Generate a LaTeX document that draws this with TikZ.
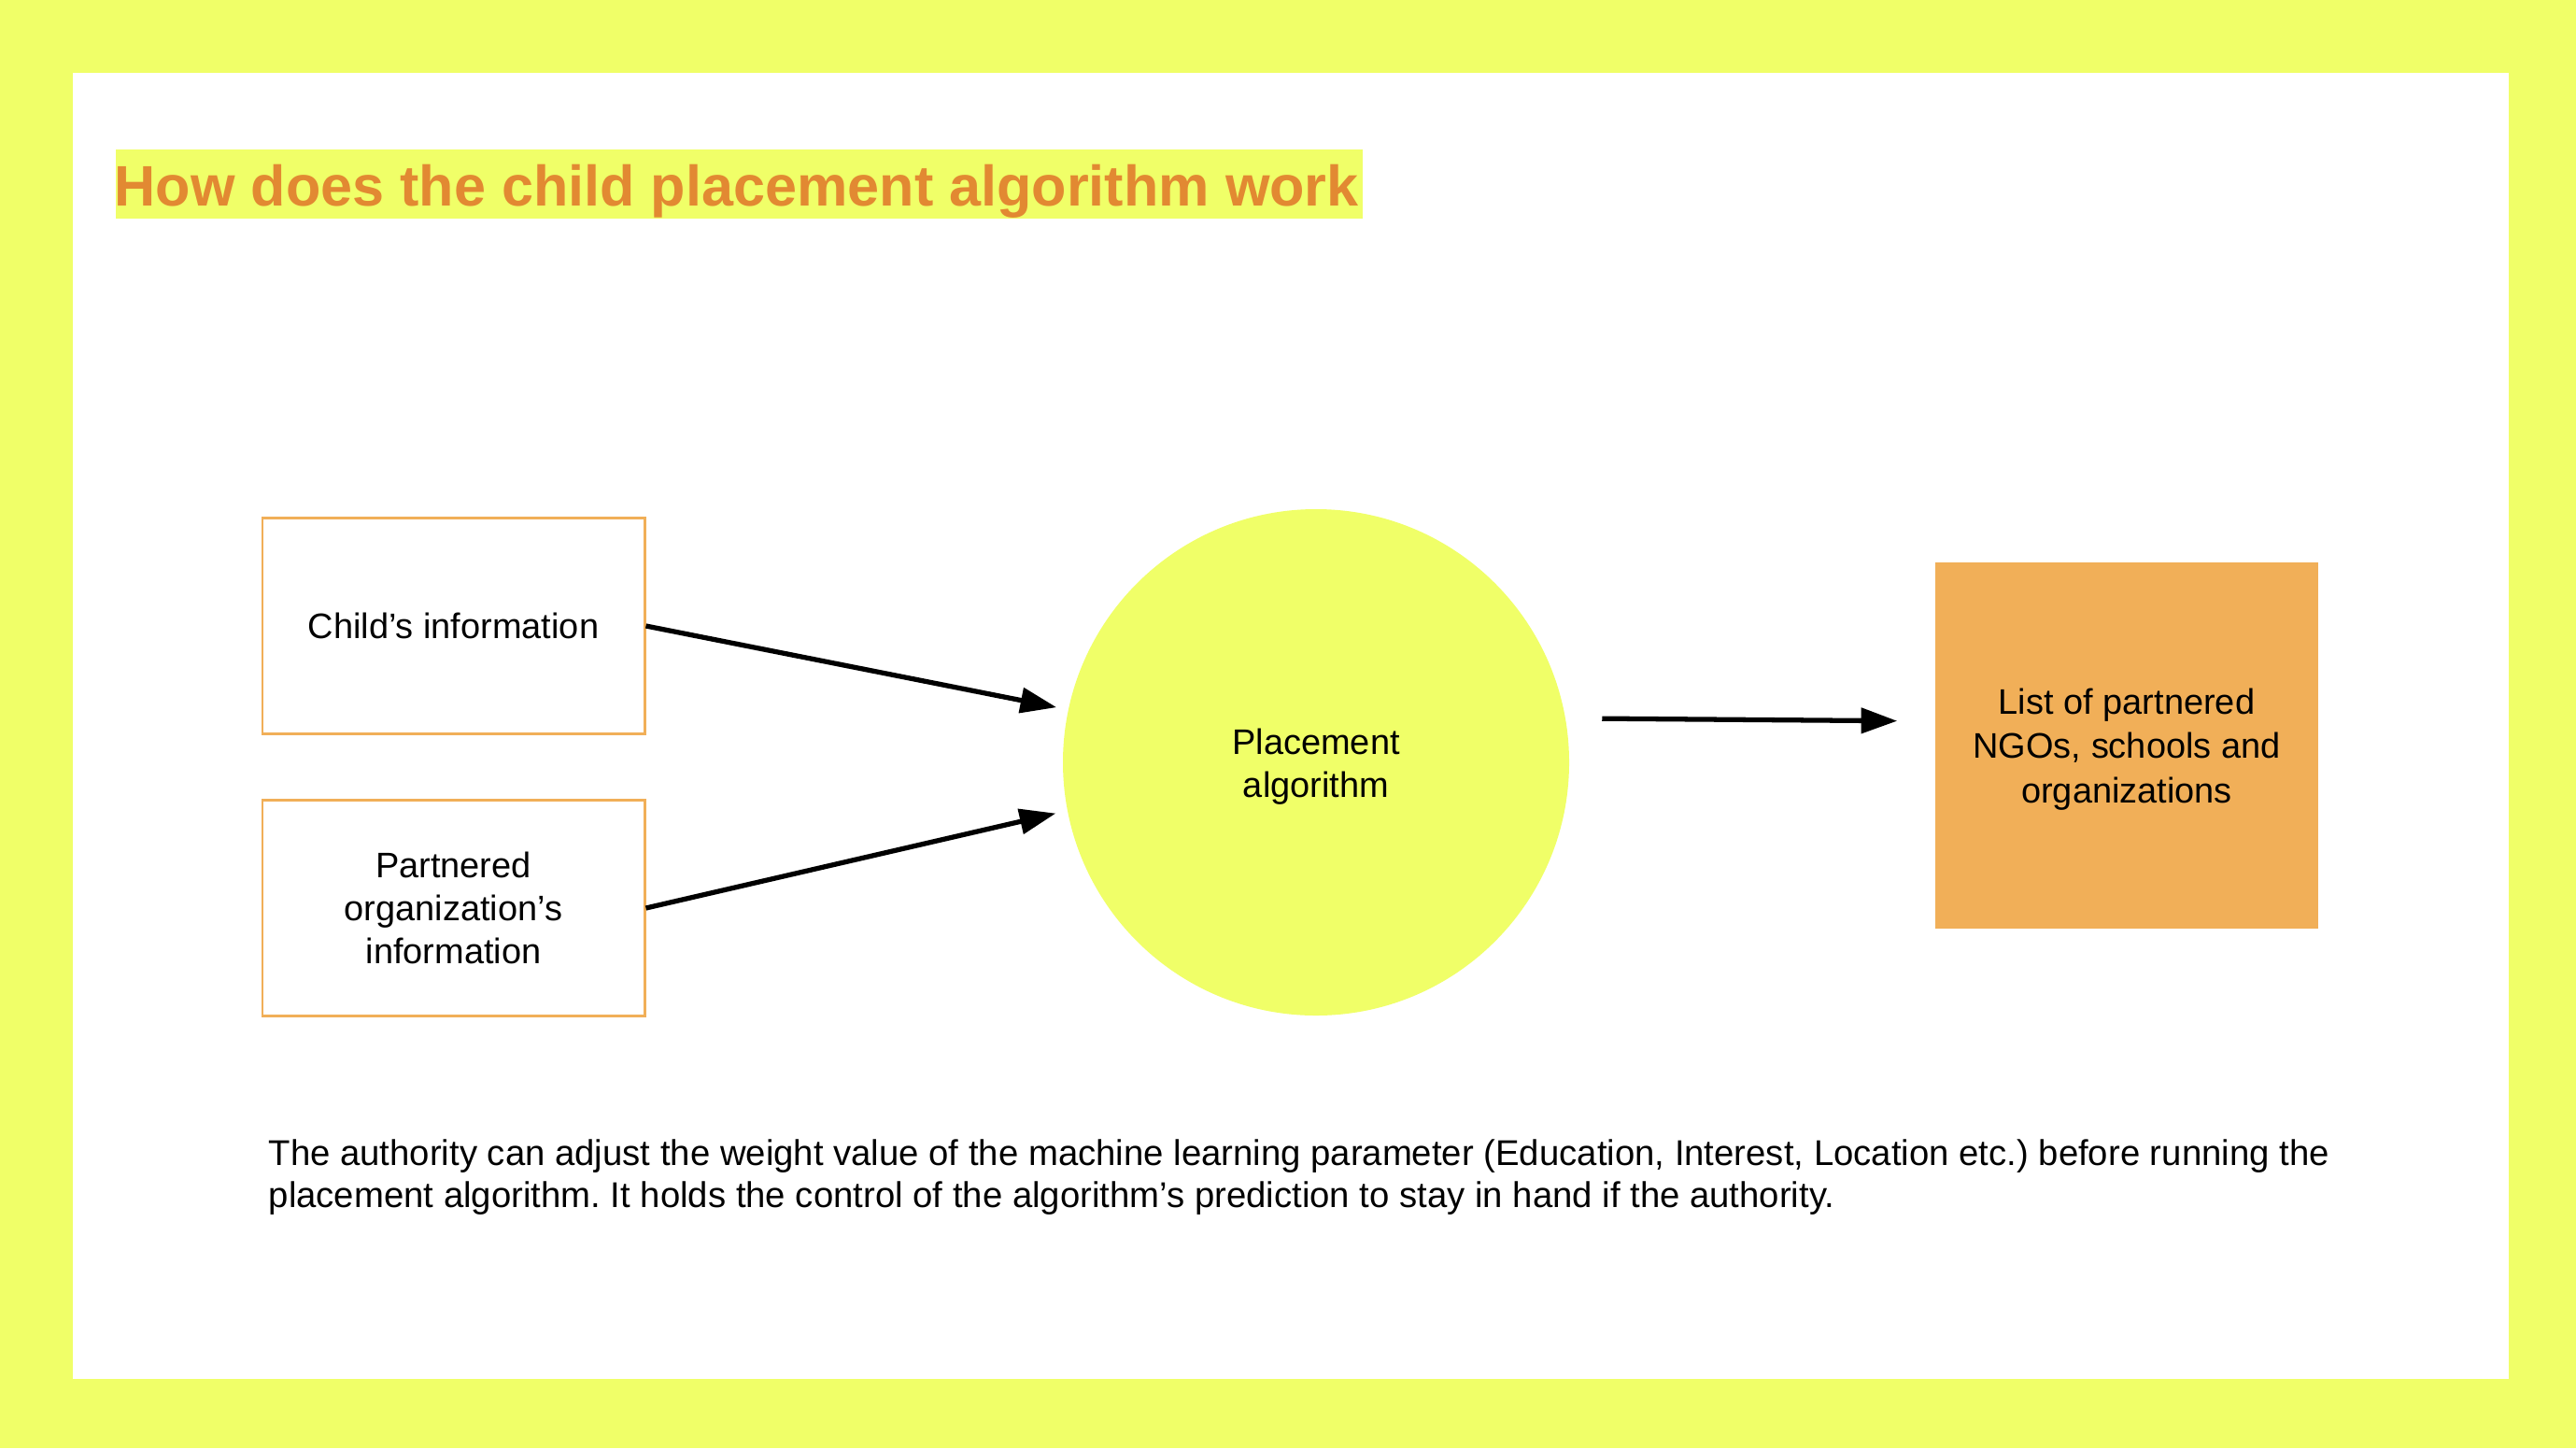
\documentclass[tikz,border=0pt]{standalone}
\usepackage{fontspec}
\setmainfont{Liberation Sans}
\usetikzlibrary{arrows.meta,calc}
\definecolor{bgyellow}{RGB}{240,255,104}
\definecolor{titleorange}{RGB}{226,137,50}
\definecolor{boxorange}{RGB}{241,175,88}
\tikzset{
  infobox/.style={draw=boxorange, line width=0.85pt, minimum width=4.09cm, minimum height=2.31cm, align=center, inner sep=0pt, font=\fontsize{10.8}{13.1}\selectfont},
  arr/.style={-{Triangle[length=11pt,width=7.6pt]}, line width=1.5pt, black},
}
\begin{document}
\begin{tikzpicture}
\useasboundingbox (0,0) rectangle (27.58,-15.5);
\fill[bgyellow] (0,0) rectangle (27.58,-15.5);
\fill[white] (0.78,-0.78) rectangle (26.86,-14.76);
% title
\fill[bgyellow] (1.24,-1.60) rectangle (14.59,-2.34);
\node[anchor=base west, inner sep=0pt, text=titleorange, font=\fontsize{17.4}{21}\selectfont\bfseries] (title) at (1.22,-2.20) {How does the child placement algorithm work};
% nodes
\node[infobox] (child) at (4.855,-6.70) {Child’s information};
\node[infobox] (org) at (4.855,-9.72) {Partnered\\organization’s\\information};
\node[circle, fill=bgyellow, minimum size=5.42cm, inner sep=0pt, font=\fontsize{10.8}{13.1}\selectfont] (alg) at (14.09,-8.16) {\raisebox{0pt}[\dimexpr\height+0.1cm\relax][\depth]{\begin{tabular}{@{}c@{}}Placement\\algorithm\end{tabular}}};
\node[rectangle, fill=boxorange, minimum width=4.10cm, minimum height=3.92cm, inner sep=0pt, font=\fontsize{10.8}{13.4}\selectfont] (out) at (22.77,-7.98) {\raisebox{0pt}[\dimexpr\height+0.09cm\relax][\depth]{\begin{tabular}{@{}c@{}}List of partnered\\NGOs, schools and\\organizations\end{tabular}}};
% connectors
\draw[arr, shorten >=3.5pt] (child.east) -- (alg.168.7);
\draw[arr, shorten >=3.5pt] (org.east) -- (alg.191.3);
\draw[arr, shorten <=11pt, shorten >=11.4pt] (alg.10) -- ($(out.west)+(0,0.26)$);
% paragraph
\node[anchor=base west, inner sep=0pt, align=left, font=\fontsize{10.9}{12.8}\selectfont\frenchspacing] (note) at (2.87,-12.92) {The authority can adjust the weight value of the machine learning parameter (Education, Interest, Location etc.) before running the\\placement algorithm. It holds the control of the algorithm’s prediction to stay in hand if the authority.};
\end{tikzpicture}
\end{document}
